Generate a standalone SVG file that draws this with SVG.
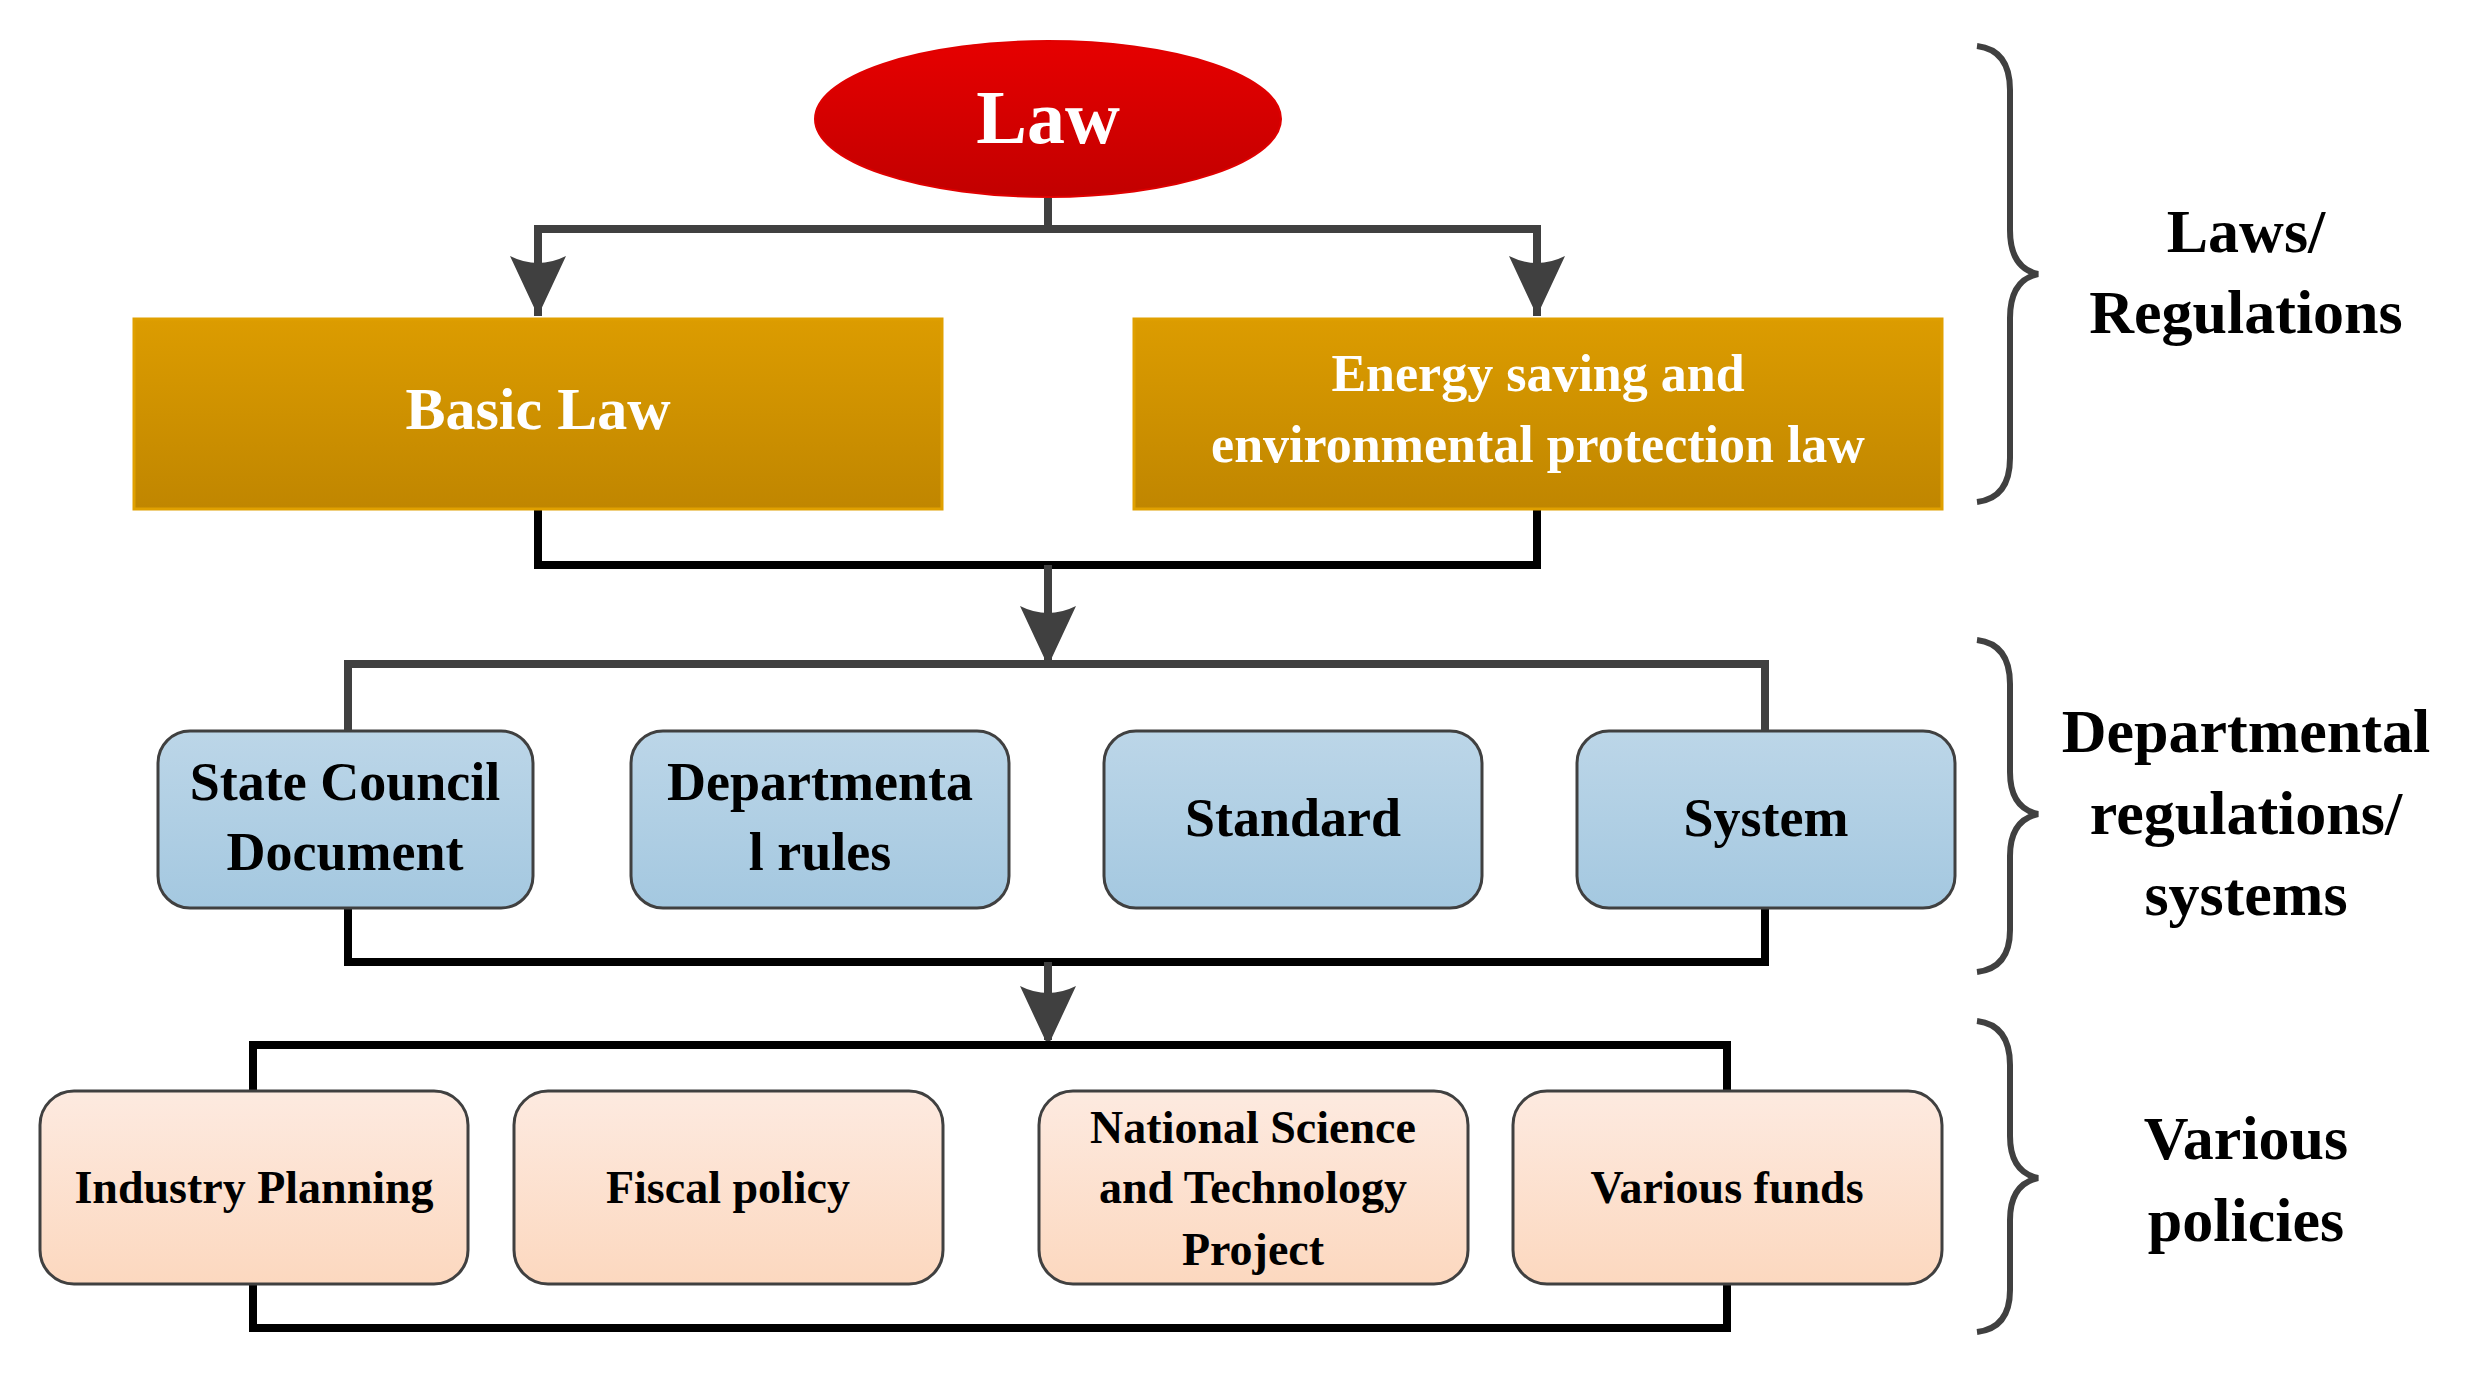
<svg xmlns="http://www.w3.org/2000/svg" width="2467" height="1374" viewBox="0 0 2467 1374">
<defs>
<linearGradient id="gR" x1="0" y1="0" x2="0" y2="1"><stop offset="0" stop-color="#e60000"/><stop offset="1" stop-color="#c20000"/></linearGradient>
<linearGradient id="gO" x1="0" y1="0" x2="0" y2="1"><stop offset="0" stop-color="#dc9c00"/><stop offset="1" stop-color="#c08600"/></linearGradient>
<linearGradient id="gB" x1="0" y1="0" x2="0" y2="1"><stop offset="0" stop-color="#bcd6e8"/><stop offset="1" stop-color="#a4c8e0"/></linearGradient>
<linearGradient id="gP" x1="0" y1="0" x2="0" y2="1"><stop offset="0" stop-color="#fdeae0"/><stop offset="1" stop-color="#fcd8bf"/></linearGradient>
</defs>
<style>
text{font-family:"Liberation Serif","Times New Roman",serif;font-weight:bold;text-anchor:middle}
.w{fill:#fff}
.k{fill:#000}
.blue{fill:url(#gB);stroke:#404040;stroke-width:3}
.peach{fill:url(#gP);stroke:#404040;stroke-width:3}
.gl{fill:none;stroke:#404040;stroke-width:8}
.bl{fill:none;stroke:#000;stroke-width:8}
.ah{fill:#404040}
.br{fill:none;stroke:#404040;stroke-width:6}
</style>
<g id="connectors">
<path class="gl" d="M1048 198V229M538 316V229H1537V316"/>
<path class="ah" d="M538 316L510 256Q538 270 566 256Z"/>
<path class="ah" d="M1537 316L1509 256Q1537 270 1565 256Z"/>
<path class="bl" d="M538 509V565H1537V509"/>
<path class="gl" d="M1048 565V660"/>
<path class="ah" d="M1048 666L1020 606Q1048 620 1076 606Z"/>
<path class="gl" d="M348 731V664H1765V731"/>
<path class="bl" d="M348 908V962H1765V908"/>
<path class="gl" d="M1048 962V1040"/>
<path class="ah" d="M1048 1046L1020 986Q1048 1000 1076 986Z"/>
<path class="bl" d="M253 1091V1045H1727V1091"/>
<path class="bl" d="M253 1284V1328H1727V1284"/>
</g>
<g id="law"><ellipse cx="1048" cy="119" rx="233" ry="78" fill="url(#gR)" stroke="#e00000" stroke-width="2"/><text class="w" x="1048" y="143" font-size="76">Law</text></g>
<g id="basic"><rect x="134" y="319" width="808" height="190" fill="url(#gO)" stroke="#e0a000" stroke-width="3"/><text class="w" x="538" y="429" font-size="60">Basic Law</text></g>
<g id="energy"><rect x="1134" y="319" width="808" height="190" fill="url(#gO)" stroke="#e0a000" stroke-width="3"/><text class="w" x="1538" y="391" font-size="52">Energy saving and</text><text class="w" x="1538" y="462" font-size="52">environmental protection law</text></g>
<g id="state"><rect class="blue" x="158" y="731" width="375" height="177" rx="32"/><text class="k" x="345" y="800" font-size="54">State Council</text><text class="k" x="345" y="870" font-size="54">Document</text></g>
<g id="dept"><rect class="blue" x="631" y="731" width="378" height="177" rx="32"/><text class="k" x="820" y="800" font-size="54">Departmenta</text><text class="k" x="820" y="870" font-size="54">l rules</text></g>
<g id="standard"><rect class="blue" x="1104" y="731" width="378" height="177" rx="32"/><text class="k" x="1293" y="836" font-size="54">Standard</text></g>
<g id="system"><rect class="blue" x="1577" y="731" width="378" height="177" rx="32"/><text class="k" x="1766" y="836" font-size="54">System</text></g>
<g id="industry"><rect class="peach" x="40" y="1091" width="428" height="193" rx="34"/><text class="k" x="254" y="1203" font-size="46">Industry Planning</text></g>
<g id="fiscal"><rect class="peach" x="514" y="1091" width="429" height="193" rx="34"/><text class="k" x="728" y="1203" font-size="46">Fiscal policy</text></g>
<g id="national"><rect class="peach" x="1039" y="1091" width="429" height="193" rx="34"/><text class="k" x="1253" y="1143" font-size="46">National Science</text><text class="k" x="1253" y="1203" font-size="46">and Technology</text><text class="k" x="1253" y="1265" font-size="46">Project</text></g>
<g id="funds"><rect class="peach" x="1513" y="1091" width="429" height="193" rx="34"/><text class="k" x="1727" y="1203" font-size="46">Various funds</text></g>
<g id="braces">
<path class="br" d="M1977 46Q2010 50 2010 90V230Q2010 268 2038 274Q2010 280 2010 318V458Q2010 498 1977 502"/>
<path class="br" d="M1977 640Q2010 644 2010 684V772Q2010 808 2038 814Q2010 820 2010 856V930Q2010 968 1977 972"/>
<path class="br" d="M1977 1021Q2010 1025 2010 1065V1136Q2010 1172 2038 1178Q2010 1184 2010 1220V1290Q2010 1328 1977 1332"/>
</g>
<g id="labels">
<text class="k" x="2246" y="252" font-size="62">Laws/</text><text class="k" x="2246" y="333" font-size="62">Regulations</text>
<text class="k" x="2246" y="752" font-size="62">Departmental</text><text class="k" x="2246" y="834" font-size="62">regulations/</text><text class="k" x="2246" y="915" font-size="62">systems</text>
<text class="k" x="2246" y="1159" font-size="62">Various</text><text class="k" x="2246" y="1241" font-size="62">policies</text>
</g>
</svg>
